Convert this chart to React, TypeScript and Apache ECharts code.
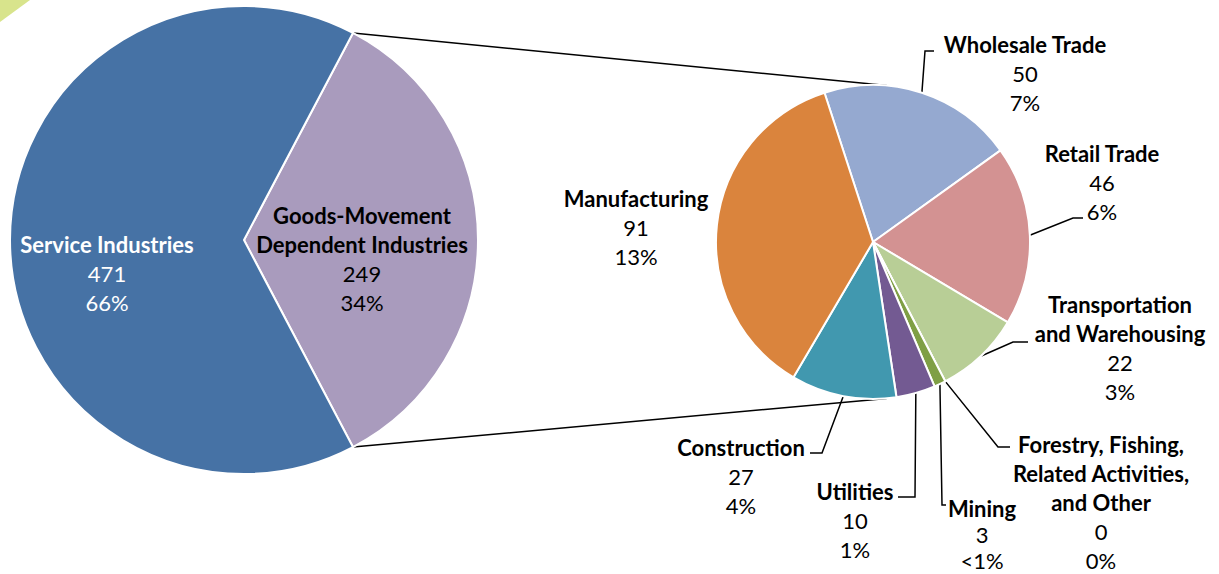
import React, { useEffect, useRef } from "react";
import * as echarts from "echarts";

// ---- Data ----
const mainNames = ["Goods-Movement\nDependent Industries", "Service Industries"];
const mainValues = [249, 471];
const mainPct = ["34%", "66%"];

const subNames = [
  "Wholesale Trade",
  "Retail Trade",
  "Transportation\nand Warehousing",
  "Forestry, Fishing,\nRelated Activities,\nand Other",
  "Mining",
  "Utilities",
  "Construction",
  "Manufacturing",
];
const subValues = [50, 46, 22, 0, 3, 10, 27, 91];
const subPct = ["7%", "6%", "3%", "0%", "<1%", "1%", "4%", "13%"];

// ---- Styles / layout ----
const mainColors = ["#A99BBD", "#4672A5"];
const subColors = ["#95A9D0", "#D39292", "#B8CE96", "#9BBB59", "#7F9F45", "#735A92", "#4198AF", "#DA843D"];

const FONT = "Lato";
const FS = 22;
const LH = 29.2;

const C1 = [244, 240];
const R1 = 234;
const C2 = [873, 242];
const R2 = 157;
const SUB_START = 108;

const mainLabelPos = [
  { x: 362, y: 200.5 },
  { x: 107, y: 229.5 },
];
const subLabelPos = [
  { x: 1025, y: 29.5, line: [[925, 51], [934, 51]], tight: false },
  { x: 1102, y: 138.5, line: [[1073, 218], [1083, 218]], tight: false },
  { x: 1120, y: 289.5, line: [[1013, 342], [1028, 342]], tight: false },
  { x: 1101, y: 429.5, line: [[998, 447], [1010, 447]], tight: false },
  { x: 982, y: 495, line: [[942, 505], [946, 505]], tight: true },
  { x: 855, y: 476.5, line: [[915, 497], [898, 497]], tight: false },
  { x: 741, y: 432.5, line: [[822, 453], [810, 453]], tight: false },
  { x: 636, y: 183.5, line: null, tight: false },
];

function fmt(name: string, value: number, pct: string, kind: string) {
  const b = "b" + kind;
  const v = "v" + kind;
  const lines = name.split("\n").map((s) => `{${b}|${s}}`);
  return [...lines, `{${v}|${value}}`, `{${v}|${pct}}`].join("\n");
}

const base = { fontFamily: FONT, fontSize: FS };
const rich = {
  bk: { ...base, fontWeight: "bold", lineHeight: LH, color: "#000" },
  vk: { ...base, fontWeight: "normal", lineHeight: LH, color: "#000" },
  bw: { ...base, fontWeight: "bold", lineHeight: LH, color: "#fff" },
  vw: { ...base, fontWeight: "normal", lineHeight: LH, color: "#fff" },
  bt: { ...base, fontWeight: "bold", lineHeight: 26, color: "#000" },
  vt: { ...base, fontWeight: "normal", lineHeight: 26, color: "#000" },
};

export default function App() {
  const ref = useRef<HTMLDivElement>(null);
  useEffect(() => {
    if (!ref.current) return;
    const chart = echarts.init(ref.current, undefined, { renderer: "svg" });
    const mainSum = mainValues.reduce((a, b) => a + b, 0);
    const half = (mainValues[0] / mainSum) * Math.PI;
    const p1 = [C1[0] + R1 * Math.cos(half), C1[1] - R1 * Math.sin(half)];
    const p2 = [C1[0] + R1 * Math.cos(half), C1[1] + R1 * Math.sin(half)];
    const a = (5 * Math.PI) / 180;
    const q1 = [C2[0] + R2 * Math.sin(a), C2[1] - R2 * Math.cos(a)];
    const q2 = [C2[0] + R2 * Math.sin(a), C2[1] + R2 * Math.cos(a)];

    chart.setOption({
      animation: false,
      backgroundColor: "#fff",
      graphic: [
        { type: "polygon", shape: { points: [[0, 0], [30, 0], [0, 22]] }, style: { fill: "#D8E48C" }, z: 0 },
        { type: "line", shape: { x1: p1[0], y1: p1[1], x2: q1[0], y2: q1[1] }, style: { stroke: "#000", lineWidth: 1.5 }, z: 0 },
        { type: "line", shape: { x1: p2[0], y1: p2[1], x2: q2[0], y2: q2[1] }, style: { stroke: "#000", lineWidth: 1.5 }, z: 0 },
      ],
      series: [
        {
          type: "pie",
          center: C1,
          radius: R1,
          startAngle: (mainValues[0] / mainSum) * 180,
          clockwise: true,
          avoidLabelOverlap: false,
          silent: true,
          z: 3,
          itemStyle: { borderColor: "#fff", borderWidth: 2 },
          label: { show: true, position: "inside", rich },
          labelLine: { show: false },
          labelLayout: (params: any) => {
            const L = mainLabelPos[params.dataIndex];
            return { x: L.x, y: L.y, align: "center", verticalAlign: "top" };
          },
          data: mainNames.map((n, i) => ({
            name: n,
            value: mainValues[i],
            itemStyle: { color: mainColors[i] },
            label: { formatter: () => fmt(n, mainValues[i], mainPct[i], i === 1 ? "w" : "k") },
          })),
        },
        {
          type: "pie",
          center: C2,
          radius: R2,
          startAngle: SUB_START,
          clockwise: true,
          avoidLabelOverlap: false,
          silent: true,
          z: 3,
          itemStyle: { borderColor: "#fff", borderWidth: 2 },
          label: { show: true, position: "outside", rich },
          labelLine: { show: true, lineStyle: { color: "#000", width: 1.5 } },
          labelLayout: (params: any) => {
            const L = subLabelPos[params.dataIndex];
            const out: any = { x: L.x, y: L.y, align: "center", verticalAlign: "top" };
            if (L.line && params.labelLinePoints && params.labelLinePoints[0]) {
              out.labelLinePoints = [params.labelLinePoints[0], ...L.line];
            }
            return out;
          },
          data: subNames.map((n, i) => ({
            name: n,
            value: subValues[i],
            itemStyle: { color: subColors[i] },
            label: { formatter: () => fmt(n, subValues[i], subPct[i], subLabelPos[i].tight ? "t" : "k") },
            labelLine: { show: subLabelPos[i].line !== null },
          })),
        },
      ],
    });
    return () => chart.dispose();
  }, []);
  return <div ref={ref} style={{ position: "absolute", left: 0, top: 0, width: 1219, height: 574 }} />;
}
